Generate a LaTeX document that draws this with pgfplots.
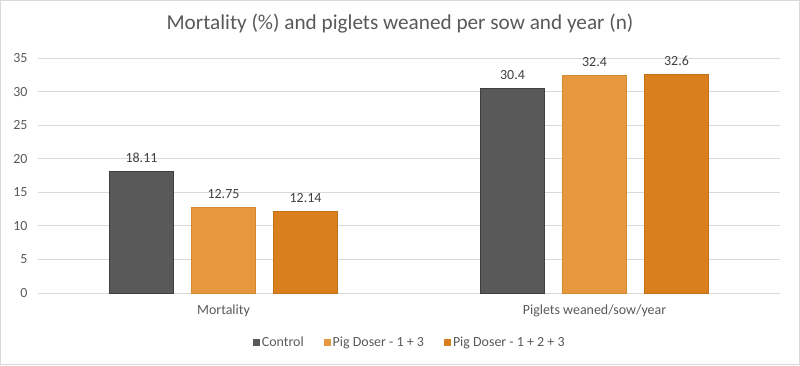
\documentclass[border=0pt]{standalone}
\usepackage{fontspec}
\setmainfont{Carlito}
\usepackage{pgfplots}
\pgfplotsset{compat=1.18}
\definecolor{ctrl}{HTML}{595959}
\definecolor{ctrlb}{HTML}{3F3F3F}
\definecolor{orA}{HTML}{E6983F}
\definecolor{orAb}{HTML}{D5892F}
\definecolor{orB}{HTML}{D97F1E}
\definecolor{orBb}{HTML}{C27015}
\definecolor{gridc}{HTML}{D9D9D9}
\definecolor{txt}{HTML}{595959}
\definecolor{lbl}{HTML}{404040}
\begin{document}
\begin{tikzpicture}[x=1bp,y=1bp]
\useasboundingbox (0,0) rectangle (800,365);
\draw[gridc, line width=1bp] (0.5,0.5) rectangle (799.5,364.5);
\node[font=\fontsize{21.3}{25}\selectfont, text=txt] at (400,341) {Mortality (\%) and piglets weaned per sow and year (n)};
\begin{axis}[
  at={(38bp,72bp)}, anchor=south west,
  scale only axis, width=742bp, height=235bp,
  xmin=-0.5, xmax=1.5, ymin=0, ymax=35,
  ytick={0,5,...,35}, xtick={0,1},
  xticklabels={Mortality, Piglets weaned/sow/year},
  axis lines*=left, axis line style={draw=none},
  tick style={draw=none},
  ymajorgrids, major grid style={gridc, line width=1bp},
  /pgf/number format/assume math mode=true,
  ticklabel style={font=\fontsize{14}{16}\selectfont, text=txt},
  yticklabel style={xshift=-7bp},
  xticklabel style={yshift=-4bp},
  ybar=18bp, bar width=64bp,
  nodes near coords={\pgfmathprintnumber[fixed,precision=2]{\pgfplotspointmeta}},
  every node near coord/.append style={font=\fontsize{14}{16}\selectfont, text=lbl, yshift=5bp},
  legend style={at={(0.501,-0.2085)}, anchor=center, draw=none, fill=none,
    legend columns=-1, font=\fontsize{14}{16}\selectfont, text=txt,
    /tikz/every even column/.append style={column sep=18bp}},
  legend image code/.code={\fill[#1,draw=none] (0bp,-3.5bp) rectangle (7bp,3.5bp);},
]
\addplot[fill=ctrl, draw=ctrlb, line width=1bp] coordinates {(0,18.11) (1,30.4)};
\addplot[fill=orA, draw=orAb, line width=1bp] coordinates {(0,12.75) (1,32.4)};
\addplot[fill=orB, draw=orBb, line width=1bp] coordinates {(0,12.14) (1,32.6)};
\legend{Control, Pig Doser - 1 + 3, Pig Doser - 1 + 2 + 3}
\end{axis}
\end{tikzpicture}
\end{document}
